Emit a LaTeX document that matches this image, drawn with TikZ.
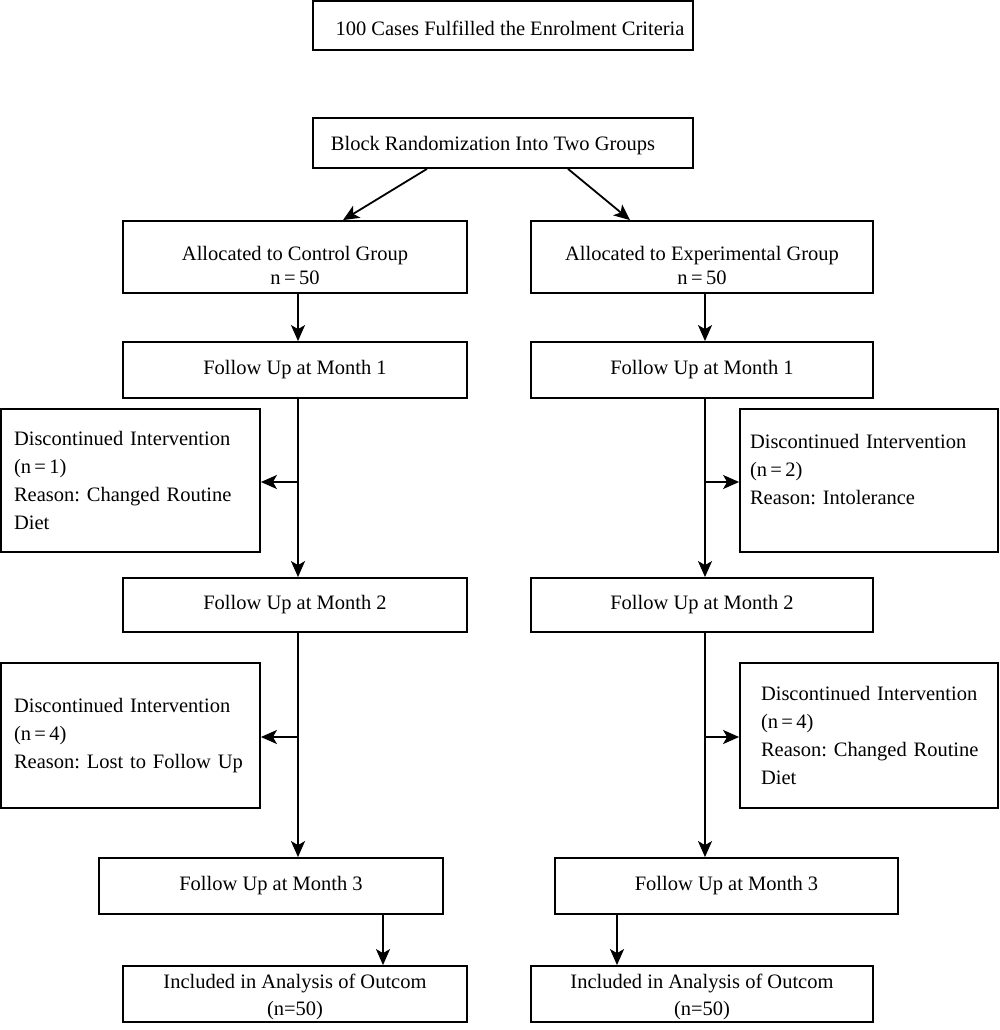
\documentclass[tikz,border=0pt]{standalone}
\usepackage{fontspec}
\setmainfont{Liberation Serif}
\usetikzlibrary{arrows.meta,calc}
\begin{document}
\frenchspacing
\begin{tikzpicture}[x=1pt,y=-1pt,
  box/.style={draw, line width=1.8pt, inner sep=0pt, align=center,
    font=\fontsize{20.5}{28}\selectfont\frenchspacing},
  sidebox/.style={box, align=left, inner ysep=0pt},
  conn/.style={line width=1.8pt, -{Stealth[length=16pt,width=14pt,inset=4pt]}}]
\useasboundingbox (0,0) rectangle (1000,1030);
\node[box, minimum width=380pt, minimum height=49pt, text height=24pt, text depth=4pt] (top) at (503,25.5) {\hspace*{14pt}100 Cases Fulfilled the Enrolment Criteria};
\node[box, minimum width=380pt, minimum height=50pt, text height=18pt, text depth=4pt] (block) at (503,143) {Block Randomization Into Two Groups\hspace*{20pt}};
\node[box, minimum width=344pt, minimum height=72pt, font=\fontsize{20.5}{24}\selectfont] (ca) at (295,257) {\mbox{}\\[6.6pt]Allocated to Control Group\\n\,=\,50};
\node[box, minimum width=342pt, minimum height=72pt, font=\fontsize{20.5}{24}\selectfont] (ea) at (702,257) {\mbox{}\\[6.6pt]Allocated to Experimental Group\\n\,=\,50};
\node[box, minimum width=344pt, minimum height=56pt] (c1) at (295,370) {Follow Up at Month 1};
\node[box, minimum width=342pt, minimum height=56pt] (e1) at (702,370) {Follow Up at Month 1};
\node[sidebox, inner xsep=13pt, text width=233pt, minimum height=143pt] (dl1) at (130.5,480.5) {Discontinued Intervention\\(n\,=\,1)\\\mbox{Reason: Changed Routine}\\Diet};
\node[sidebox, inner xsep=10pt, text width=238pt, minimum height=143pt] (dr1) at (869,480.5) {Discontinued Intervention\\(n\,=\,2)\\Reason: Intolerance\\[-6pt]\mbox{}};
\node[box, minimum width=344pt, minimum height=54pt] (c2) at (295,605) {Follow Up at Month 2};
\node[box, minimum width=342pt, minimum height=54pt] (e2) at (702,605) {Follow Up at Month 2};
\node[sidebox, inner xsep=13pt, text width=233pt, minimum height=145pt] (dl2) at (130.5,735.5) {Discontinued Intervention\\(n\,=\,4)\\\mbox{Reason: Lost to Follow Up}};
\node[sidebox, inner xsep=21pt, text width=216pt, minimum height=145pt] (dr2) at (869,735.5) {\mbox{Discontinued Intervention}\\(n\,=\,4)\\\mbox{Reason: Changed Routine}\\Diet};
\node[box, minimum width=344pt, minimum height=56pt] (c3) at (271,886) {Follow Up at Month 3};
\node[box, minimum width=343pt, minimum height=56pt] (e3) at (726.5,886) {Follow Up at Month 3};
\node[box, minimum width=344pt, minimum height=56pt, font=\fontsize{20.5}{27}\selectfont] (cin) at (295,994) {\mbox{}\\[-6.4pt]Included in Analysis of Outcom\\(n=50)};
\node[box, minimum width=342pt, minimum height=56pt, font=\fontsize{20.5}{27}\selectfont] (ein) at (702,994) {\mbox{}\\[-6.4pt]Included in Analysis of Outcom\\(n=50)};
% connectors
\draw[conn] ([xshift=-76pt]block.south) -- ([xshift=48pt]ca.north);
\draw[conn] ([xshift=65pt]block.south) -- ([xshift=-72pt]ea.north);
\draw[conn] ([xshift=3pt]ca.south) -- ([xshift=3pt]c1.north);
\draw[conn] ([xshift=3pt]ea.south) -- ([xshift=3pt]e1.north);
\draw[conn] ([xshift=3pt,yshift=2pt]c1.south) -- ([xshift=3pt]c2.north);
\draw[conn] ([xshift=3pt,yshift=2pt]e1.south) -- ([xshift=3pt]e2.north);
\coordinate (jl1) at (298,482);
\coordinate (jr1) at (705,482);
\draw[conn] (jl1) -- (dl1.east |- jl1);
\draw[conn] (jr1) -- (dr1.west |- jr1);
\draw[conn] ([xshift=3pt]c2.south) -- ([xshift=27pt]c3.north);
\draw[conn] ([xshift=3pt]e2.south) -- ([xshift=-21.5pt]e3.north);
\coordinate (jl2) at (298,737);
\coordinate (jr2) at (705,737);
\draw[conn] (jl2) -- (dl2.east |- jl2);
\draw[conn] (jr2) -- (dr2.west |- jr2);
\draw[conn] ([xshift=112pt]c3.south) -- ([xshift=88pt]cin.north);
\draw[conn] ([xshift=-109.5pt]e3.south) -- ([xshift=-85pt]ein.north);
\end{tikzpicture}
\end{document}
